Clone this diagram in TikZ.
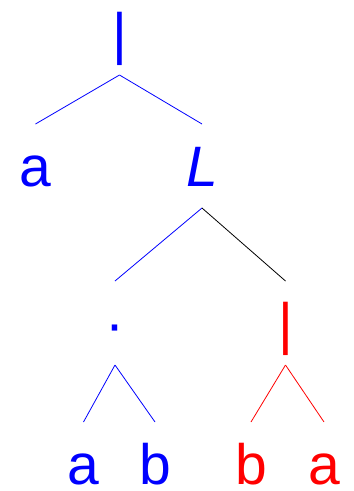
\documentclass[tikz,border=0pt]{standalone}
\usepackage{fontspec}
\setmainfont{Liberation Sans}
\definecolor{tblue}{HTML}{0000FF}
\definecolor{tred}{HTML}{FF0000}

\begin{document}
\begin{tikzpicture}[x=1pt,y=-1pt,
      sym/.style={inner sep=0pt,anchor=base,font=\fontsize{57}{60}\selectfont},
      edge/.style={line width=0.8pt}]
    \useasboundingbox (0,0) rectangle (354,491);
    % level 0
    \node[sym,text=tblue] (root) at (119.5,53) {|};
    % level 1
    \node[sym,text=tblue] (a1) at (35.5,186) {a};
    \node[sym,text=tblue,font=\fontsize{57}{60}\selectfont\itshape] (ell) at (202,186) {L};
    % level 2
    \node[sym,text=tblue] (cat) at (115,343) {·};
    \node[sym,text=tred] (alt) at (285.5,343) {|};
    % level 3
    \node[sym,text=tblue] (a2) at (83.5,484) {a};
    \node[sym,text=tblue] (b2) at (155,484) {b};
    \node[sym,text=tred] (b3) at (251,484) {b};
    \node[sym,text=tred] (a3) at (324,484) {a};
    \draw[edge,tblue] ([yshift=-22pt]root.base) -- ([yshift=62pt]a1.base);
    \draw[edge,tblue] ([yshift=-22pt]root.base) -- ([yshift=62pt]ell.base);
    \draw[edge,tblue] ([yshift=-22pt]ell.base) -- ([yshift=62pt]cat.base);
    \draw[edge,black] ([yshift=-22pt]ell.base) -- ([yshift=62pt]alt.base);
    \draw[edge,tblue] ([yshift=-22pt]cat.base) -- ([yshift=62pt]a2.base);
    \draw[edge,tblue] ([yshift=-22pt]cat.base) -- ([yshift=62pt]b2.base);
    \draw[edge,tred] ([yshift=-22pt]alt.base) -- ([yshift=62pt]b3.base);
    \draw[edge,tred] ([yshift=-22pt]alt.base) -- ([yshift=62pt]a3.base);
  \end{tikzpicture}
\end{document}
